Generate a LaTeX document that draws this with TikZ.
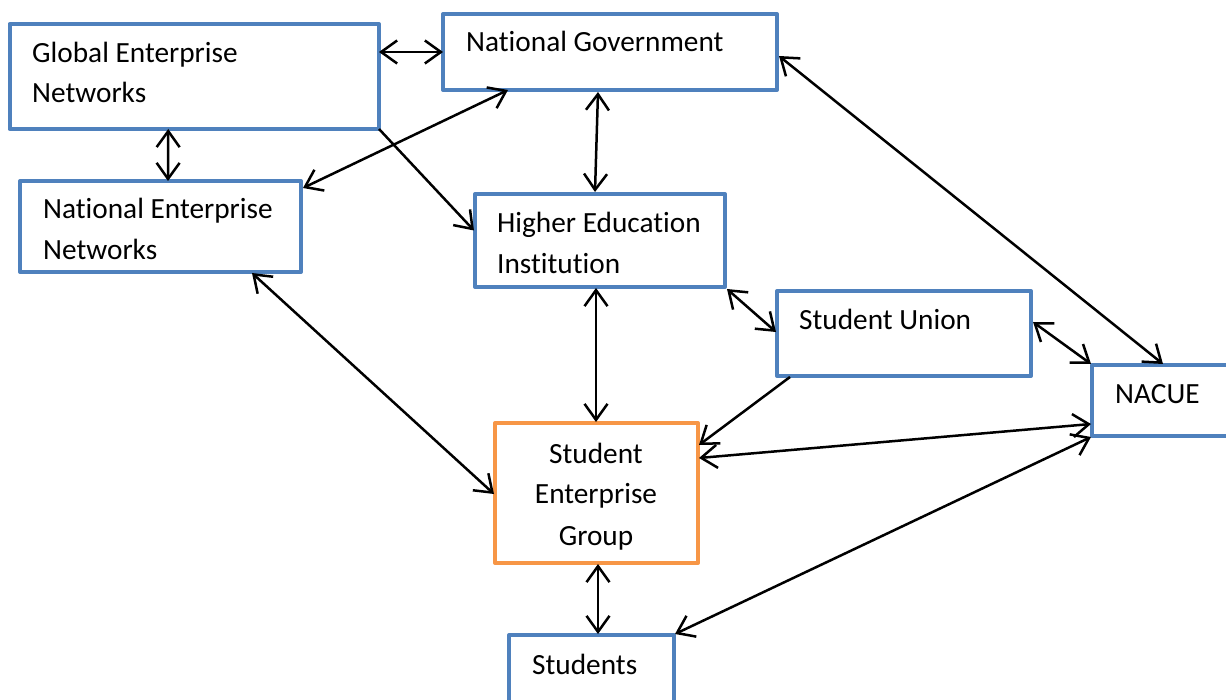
\documentclass[tikz,border=0pt]{standalone}
\usepackage{fontspec}
\setmainfont{Carlito}[Ligatures=NoCommon]
\usetikzlibrary{arrows.meta,calc}
\definecolor{boxblue}{HTML}{4F81BD}
\definecolor{boxorange}{HTML}{F79646}
\begin{document}
\begin{tikzpicture}[x=1pt,y=-1pt,
  box/.style={draw=boxblue,line width=4pt,line join=round,rectangle,inner sep=0pt,outer sep=0pt,fill=white},
  obox/.style={box,draw=boxorange},
  lbl/.style={anchor=base west,inner sep=0pt,font=\fontsize{29.3}{40}\selectfont},
  clbl/.style={anchor=base,inner sep=0pt,font=\fontsize{29.3}{40}\selectfont},
  conn/.style={line width=2.5pt,black},
  >={Straight Barb[length=16pt,width=23pt]}]
\useasboundingbox (0,0) rectangle (1226,700);
\clip (0,0) rectangle (1226,700);
% boxes
\node[box,minimum width=369.5pt,minimum height=105pt] (gen) at (194.25,76.5) {};
\node[box,minimum width=334pt,minimum height=76pt] (ng) at (610,52) {};
\node[box,minimum width=281pt,minimum height=91pt] (nen) at (160.5,226.5) {};
\node[box,minimum width=250pt,minimum height=93pt] (hei) at (600,240.5) {};
\node[box,minimum width=254pt,minimum height=85pt] (su) at (904,333.5) {};
\node[box,minimum width=158pt,minimum height=71pt] (nacue) at (1171,400.5) {};
\node[obox,minimum width=203pt,minimum height=140pt] (seg) at (596.5,493) {};
\node[box,minimum width=165pt,minimum height=85pt] (stu) at (591.5,677.5) {};
% labels
\node[lbl] (t1a) at (32,63) {Global Enterprise};
\node[lbl] (t1b) at (32,103) {Networks};
\node[lbl] (t2) at (466,52) {National Government};
\node[lbl] (t3a) at (43,219) {National Enterprise};
\node[lbl] (t3b) at (43,260) {Networks};
\node[lbl] (t4a) at (497,233) {Higher Education};
\node[lbl] (t4b) at (497,274) {Institution};
\node[lbl] (t5) at (799,330) {Student Union};
\node[lbl] (t6) at (1115,403) {NACUE};
\node[clbl] (t7a) at (596,463) {Student};
\node[clbl] (t7b) at (596,503) {Enterprise};
\node[clbl] (t7c) at (596,545) {Group};
\node[lbl] (t8) at (532,674) {Students};
% connectors
\draw[conn,<->] (gen.east |- ng.west) -- (ng.west);
\draw[conn,<->] ($(gen.south)+(-26,0)$) -- ($(nen.north)+(7.5,0)$);
\draw[conn,<->] ($(ng.south west)+(65,0)$) -- ($(nen.north east)+(2,7)$);
\draw[conn,->] (gen.south east) -- ($(hei.west)+(-1,-10)$);
\draw[conn,<->] ($(ng.south)+(-12,2)$) -- ($(hei.north)+(-5,-2)$);
\draw[conn,<->] ($(ng.east)+(2,4)$) -- ($(nacue.north)+(-8,-1)$);
\draw[conn,<->] ($(nen.south)+(91.5,1)$) -- ($(seg.west)+(-1,1)$);
\draw[conn,<->] ($(hei.south)+(-4,1)$) -- ($(seg.north)+(-0.5,-1)$);
\draw[conn,<->] ($(hei.south east)+(2,2)$) -- ($(su.west)+(-1,-1.5)$);
\draw[conn,<->] ($(su.east)+(2,-11.5)$) -- ($(nacue.north west)+(-1,-1)$);
\draw[conn,->] ($(su.south west)+(13,1)$) -- ($(seg.north east)+(1,22)$);
\draw[conn,<->] ($(seg.east)+(1,-35)$) -- ($(nacue.west)+(-1,23.5)$);
\draw[conn,<->] ($(seg.south)+(1.5,1)$) -- ($(stu.north)+(6.5,-1)$);
\draw[conn,<->] ($(stu.north east)+(1,-1)$) -- ($(nacue.south west)+(-1,1)$);
\end{tikzpicture}
\end{document}
